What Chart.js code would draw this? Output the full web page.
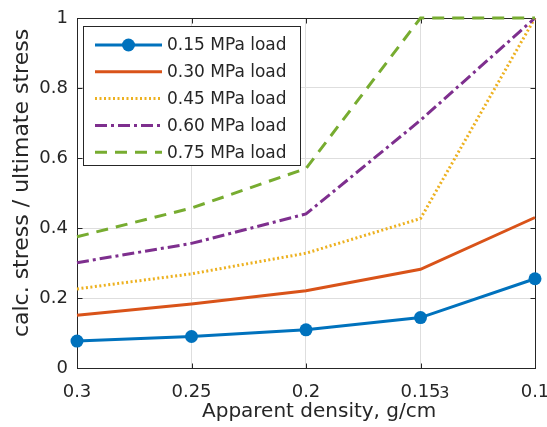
<!DOCTYPE html>
<html>
<head>
<meta charset="utf-8">
<title>Stress ratio vs apparent density</title>
<script src="https://cdn.jsdelivr.net/npm/chart.js@4/dist/chart.umd.min.js"></script>
<style>
  html, body { margin: 0; padding: 0; background: #fff; }
  #wrap { width: 547px; height: 427px; }
</style>
</head>
<body>
<div id="wrap"><canvas id="c" width="547" height="427"></canvas></div>
<script>
// apparent density (g/cm3), plotted right-to-left
const density = [0.3, 0.25, 0.2, 0.15, 0.1];

// calculated stress / ultimate stress per load case
const load015 = [0.077, 0.090, 0.109, 0.144, 0.255];
const load030 = [0.151, 0.183, 0.221, 0.282, 0.430];
const load045 = [0.226, 0.269, 0.328, 0.427, 1.0];
const load060 = [0.301, 0.356, 0.440, 0.708, 1.0];
const load075 = [0.375, 0.457, 0.570, 1.0, 1.0];

const seriesNames = ["0.15 MPa load", "0.30 MPa load", "0.45 MPa load", "0.60 MPa load", "0.75 MPa load"];

const xTicks = [0.3, 0.25, 0.2, 0.15, 0.1];
const yTicks = [0, 0.2, 0.4, 0.6, 0.8, 1];

const xTitle = "Apparent density, g/cm";
const xTitleSup = "3";
const yTitle = "calc. stress / ultimate stress";

const FONT = "'DejaVu Sans', 'Liberation Sans', Arial, sans-serif";
const INK = "#262626";

function points(vals) {
  return vals.map((v, i) => ({ x: density[i], y: v }));
}

// axes box with inward tick marks on all four sides
const axesBox = {
  id: "axesBox",
  beforeDatasetsDraw(chart) {
    const { ctx, chartArea: a, scales } = chart;
    const L = Math.round(a.left) + 0.5, R = Math.round(a.right) + 0.5;
    const T = Math.round(a.top) + 0.5, B = Math.round(a.bottom) + 0.5;
    const len = 5;
    ctx.save();
    ctx.strokeStyle = INK;
    ctx.lineWidth = 1;
    ctx.strokeRect(L, T, R - L, B - T);
    ctx.beginPath();
    xTicks.forEach(v => {
      const px = Math.round(scales.x.getPixelForValue(v)) + 0.5;
      ctx.moveTo(px, B); ctx.lineTo(px, B - len);
      ctx.moveTo(px, T); ctx.lineTo(px, T + len);
    });
    yTicks.forEach(v => {
      const py = Math.round(scales.y.getPixelForValue(v)) + 0.5;
      ctx.moveTo(L, py); ctx.lineTo(L + len, py);
      ctx.moveTo(R, py); ctx.lineTo(R - len, py);
    });
    ctx.stroke();
    ctx.restore();
  }
};

// axis titles, the x one carries a superscript unit
const axisTitles = {
  id: "axisTitles",
  afterDraw(chart) {
    const ctx = chart.ctx;
    ctx.save();
    ctx.fillStyle = INK;
    ctx.textBaseline = "alphabetic";
    ctx.font = "20px " + FONT;
    const x0 = 202, base = 417;
    ctx.fillText(xTitle, x0, base);
    const w = ctx.measureText(xTitle).width;
    ctx.font = "16px " + FONT;
    ctx.fillText(xTitleSup, x0 + w + 3, base - 19);

    ctx.translate(28, 183);
    ctx.rotate(-Math.PI / 2);
    ctx.font = "22px " + FONT;
    ctx.textAlign = "center";
    ctx.fillText(yTitle, 0, 0);
    ctx.restore();
  }
};

// boxed legend in the upper-left corner of the plot
const boxLegend = {
  id: "boxLegend",
  afterDatasetsDraw(chart) {
    const ctx = chart.ctx;
    const bx = 83.5, by = 26.5, bw = 217, bh = 139;
    ctx.save();
    ctx.fillStyle = "#fff";
    ctx.fillRect(bx, by, bw, bh);
    ctx.strokeStyle = INK;
    ctx.lineWidth = 1;
    ctx.strokeRect(bx, by, bw, bh);
    chart.data.datasets.forEach((ds, i) => {
      const y = 45 + i * 26.8;
      ctx.strokeStyle = ds.borderColor;
      ctx.lineWidth = ds.borderWidth;
      ctx.setLineDash(ds.borderDash || []);
      ctx.beginPath();
      ctx.moveTo(95, y);
      ctx.lineTo(162, y);
      ctx.stroke();
      ctx.setLineDash([]);
      if (ds.pointRadius > 0) {
        ctx.fillStyle = ds.pointBackgroundColor;
        ctx.beginPath();
        ctx.arc(128.5, y, ds.pointRadius, 0, Math.PI * 2);
        ctx.fill();
      }
      ctx.fillStyle = INK;
      ctx.font = "17px " + FONT;
      ctx.textBaseline = "middle";
      ctx.fillText(ds.label, 167, y + 1);
    });
    ctx.restore();
  }
};

const series = [load015, load030, load045, load060, load075];
const colors = ["#0072BD", "#D95319", "#EDB120", "#7E2F8E", "#77AC30"];
const dashes = [[], [], [2, 2.5], [12, 4, 3, 4], [12, 8]];

const datasets = series.map((vals, i) => ({
  label: seriesNames[i],
  data: points(vals),
  borderColor: colors[i],
  backgroundColor: colors[i],
  borderWidth: 3,
  borderDash: dashes[i],
  pointRadius: i === 0 ? 6.5 : 0,
  pointHoverRadius: i === 0 ? 6.5 : 0,
  pointBackgroundColor: colors[i],
  pointBorderWidth: 0,
  tension: 0,
  clip: false,
  order: 5 - i
}));

new Chart(document.getElementById("c"), {
  type: "line",
  data: { datasets },
  options: {
    responsive: false,
    animation: false,
    devicePixelRatio: 1,
    layout: { padding: { left: 0, right: 12, top: 18, bottom: 0 } },
    plugins: {
      legend: { display: false },
      tooltip: { enabled: false }
    },
    scales: {
      x: {
        type: "linear",
        reverse: true,
        min: 0.1,
        max: 0.3,
        afterBuildTicks: s => { s.ticks = xTicks.map(v => ({ value: v })); },
        afterFit: s => { s.height = 59; s.paddingLeft = 0; s.paddingRight = 0; },
        ticks: {
          color: INK,
          font: { family: FONT, size: 18 },
          padding: 14,
          maxRotation: 0,
          callback: v => String(Number(v.toFixed(2)))
        },
        grid: { color: "#dedede", lineWidth: 1, drawTicks: false },
        border: { display: false }
      },
      y: {
        min: 0,
        max: 1,
        afterBuildTicks: s => { s.ticks = yTicks.map(v => ({ value: v })); },
        afterFit: s => { s.width = 77; s.paddingTop = 0; s.paddingBottom = 0; },
        ticks: {
          color: INK,
          font: { family: FONT, size: 18 },
          padding: 9,
          callback: v => String(Number(v.toFixed(1)))
        },
        grid: { color: "#dedede", lineWidth: 1, drawTicks: false },
        border: { display: false }
      }
    }
  },
  plugins: [axesBox, boxLegend, axisTitles]
});
</script>
</body>
</html>
